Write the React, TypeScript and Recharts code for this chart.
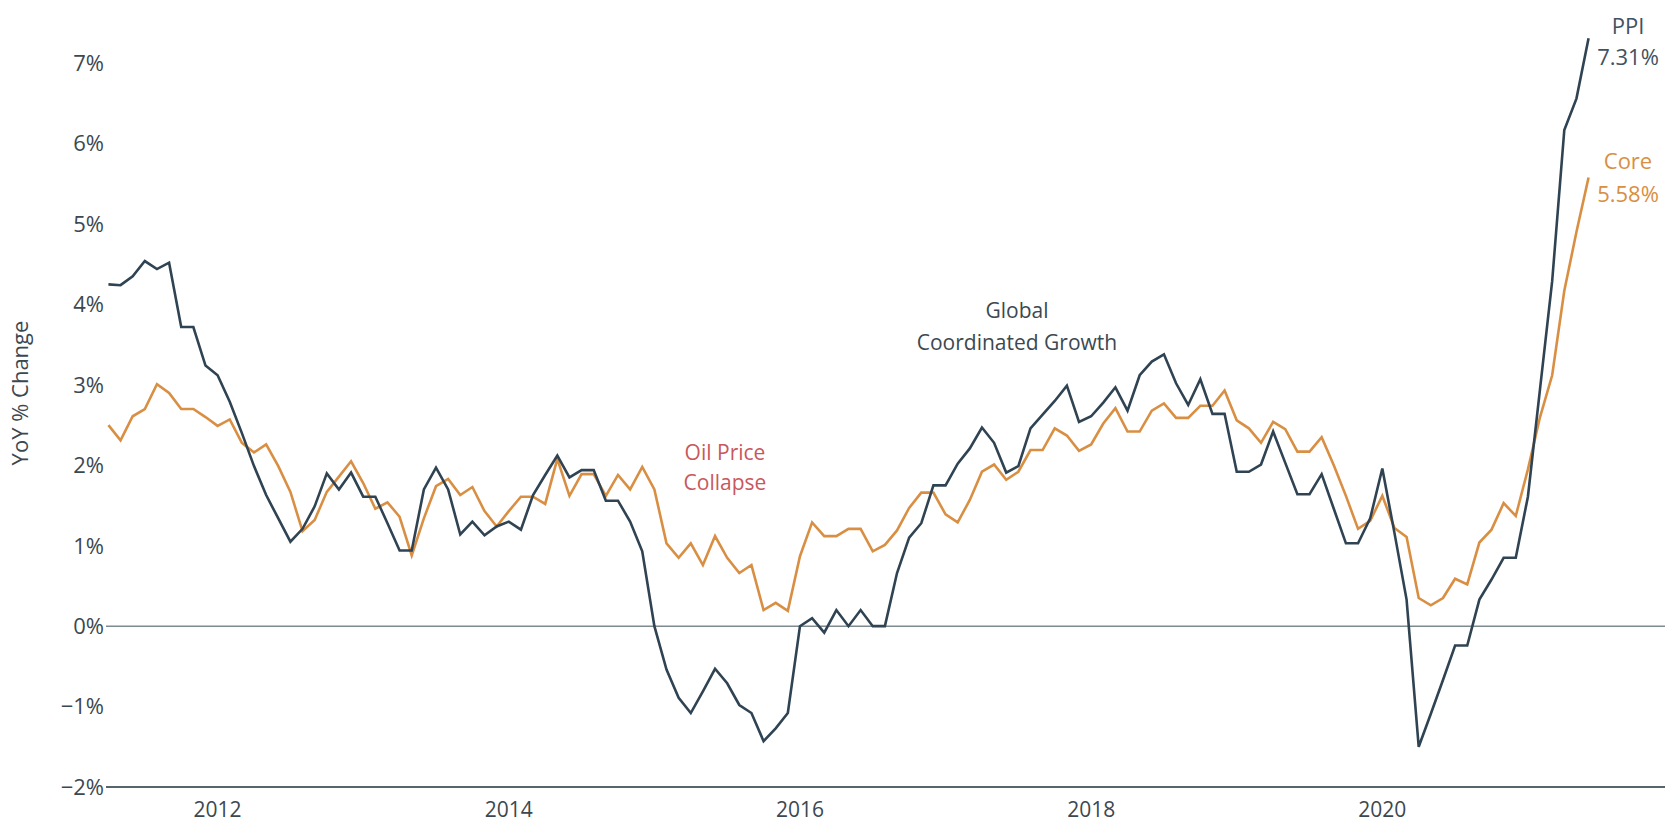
import { LineChart, Line, XAxis, YAxis, ReferenceLine } from 'recharts';

// monthly YoY % change, Apr 2011 .. Jun 2021
const ppi = [
    4.25, 4.24, 4.35, 4.54, 4.44, 4.52, 3.72, 3.72, 3.24,
    3.12, 2.79, 2.40, 1.99, 1.63, 1.34, 1.05, 1.21, 1.49, 1.90, 1.70, 1.91,
    1.61, 1.61, 1.28, 0.94, 0.94, 1.70, 1.97, 1.70, 1.14, 1.30, 1.13, 1.24,
    1.30, 1.20, 1.63, 1.88, 2.12, 1.85, 1.94, 1.94, 1.56, 1.56, 1.30, 0.93,
    0.00, -0.54, -0.89, -1.08, -0.81, -0.53, -0.71, -0.98, -1.08, -1.43, -1.27, -1.08,
    0.00, 0.10, -0.08, 0.20, 0.00, 0.20, 0.00, 0.00, 0.66, 1.10, 1.28, 1.75,
    1.75, 2.02, 2.21, 2.47, 2.28, 1.91, 1.99, 2.46, 2.63, 2.80, 2.99, 2.54,
    2.61, 2.78, 2.97, 2.68, 3.12, 3.29, 3.38, 3.02, 2.75, 3.07, 2.64, 2.64,
    1.92, 1.92, 2.01, 2.42, 2.03, 1.64, 1.64, 1.89, 1.46, 1.03, 1.03, 1.34,
    1.96, 1.16, 0.33, -1.50, -1.09, -0.67, -0.24, -0.24, 0.33, 0.58, 0.85, 0.85,
    1.61, 2.95, 4.29, 6.17, 6.56, 7.31,
];

const core = [
    2.50, 2.31, 2.61, 2.70, 3.01, 2.90, 2.70, 2.70, 2.60,
    2.49, 2.57, 2.28, 2.16, 2.26, 1.99, 1.67, 1.18, 1.32, 1.67, 1.86, 2.05,
    1.78, 1.46, 1.54, 1.36, 0.88, 1.34, 1.74, 1.83, 1.63, 1.73, 1.43, 1.24,
    1.43, 1.61, 1.61, 1.52, 2.08, 1.62, 1.89, 1.89, 1.62, 1.88, 1.70, 1.98,
    1.70, 1.03, 0.85, 1.03, 0.76, 1.12, 0.85, 0.66, 0.76, 0.20, 0.29, 0.19,
    0.87, 1.29, 1.12, 1.12, 1.21, 1.21, 0.93, 1.01, 1.19, 1.47, 1.66, 1.66,
    1.39, 1.29, 1.57, 1.92, 2.01, 1.82, 1.92, 2.19, 2.19, 2.46, 2.37, 2.18,
    2.26, 2.52, 2.71, 2.42, 2.42, 2.68, 2.77, 2.59, 2.59, 2.74, 2.74, 2.93,
    2.56, 2.46, 2.28, 2.54, 2.45, 2.17, 2.17, 2.35, 2.00, 1.62, 1.21, 1.31,
    1.62, 1.22, 1.11, 0.35, 0.26, 0.35, 0.59, 0.52, 1.04, 1.20, 1.53, 1.37,
    1.95, 2.60, 3.12, 4.17, 4.90, 5.58,
];

const startYear = 2011;
const startMonth = 4; // April
const yearTicks = [2012, 2014, 2016, 2018, 2020];
const yTicks = [-2, -1, 0, 1, 2, 3, 4, 5, 6, 7];

const PPI_COLOR = '#2f4352';
const CORE_COLOR = '#d98f43';
const TEXT_COLOR = '#3c4850';
const FONT = '"Open Sans", "Noto Sans", sans-serif';

const monthIndex = (year: number) => (year - startYear) * 12 - (startMonth - 1);

const data = ppi.map((v, i) => ({ i, ppi: v, core: core[i] }));

const App = () => {
    return (
        <div style={{ position: 'absolute', left: 0, top: 0, width: 1665, height: 825, background: '#fff', fontFamily: FONT }}>
            <LineChart width={1665} height={825} data={data} margin={{ top: 23, right: 0, left: 0, bottom: 0 }}>
                <XAxis
                    dataKey="i"
                    type="number"
                    domain={[-0.2, 128.3]}
                    ticks={yearTicks.map(monthIndex)}
                    tickFormatter={(v) => String(startYear + Math.floor((v + startMonth - 1) / 12))}
                    tickLine={false}
                    tickSize={0}
                    tickMargin={15}
                    height={38}
                    axisLine={{ stroke: '#56656c', strokeWidth: 2 }}
                    tick={{ fill: TEXT_COLOR, fontSize: 21, fontFamily: FONT }}
                    allowDataOverflow
                />
                <YAxis
                    type="number"
                    domain={[-2, 7.5]}
                    ticks={yTicks}
                    tickFormatter={(v) => (v < 0 ? `\u2212${Math.abs(v)}%` : `${v}%`)}
                    width={106}
                    axisLine={false}
                    tickLine={false}
                    tickSize={0}
                    tickMargin={2}
                    tick={{ fill: TEXT_COLOR, fontSize: 22, fontFamily: FONT }}
                    allowDataOverflow
                />
                <ReferenceLine y={0} stroke="#7d8a90" strokeWidth={1.5} />
                <Line type="linear" dataKey="core" stroke={CORE_COLOR} strokeWidth={2.6} dot={false} isAnimationActive={false} />
                <Line type="linear" dataKey="ppi" stroke={PPI_COLOR} strokeWidth={2.6} dot={false} isAnimationActive={false} />
            </LineChart>

            <svg width={1665} height={825} style={{ position: 'absolute', left: 0, top: 0, pointerEvents: 'none' }}>
                <g fontFamily={FONT} textAnchor="middle" dominantBaseline="central">
                    <text x={19} y={393} fontSize={22} fill={TEXT_COLOR} transform="rotate(-90 19 393)">YoY % Change</text>

                    <text x={725} y={452} fontSize={21} fill="#c9575c">Oil Price</text>
                    <text x={725} y={482} fontSize={21} fill="#c9575c">Collapse</text>

                    <text x={1017} y={310} fontSize={21} fill={TEXT_COLOR}>Global</text>
                    <text x={1017} y={342} fontSize={21} fill={TEXT_COLOR}>Coordinated Growth</text>

                    <text x={1628} y={25} fontSize={22} fill="#3f5262">PPI</text>
                    <text x={1628} y={56} fontSize={22} fill="#3f5262">7.31%</text>

                    <text x={1628} y={160} fontSize={22} fill={CORE_COLOR}>Core</text>
                    <text x={1628} y={193} fontSize={22} fill={CORE_COLOR}>5.58%</text>
                </g>
            </svg>
        </div>
    );
};

export default App;
